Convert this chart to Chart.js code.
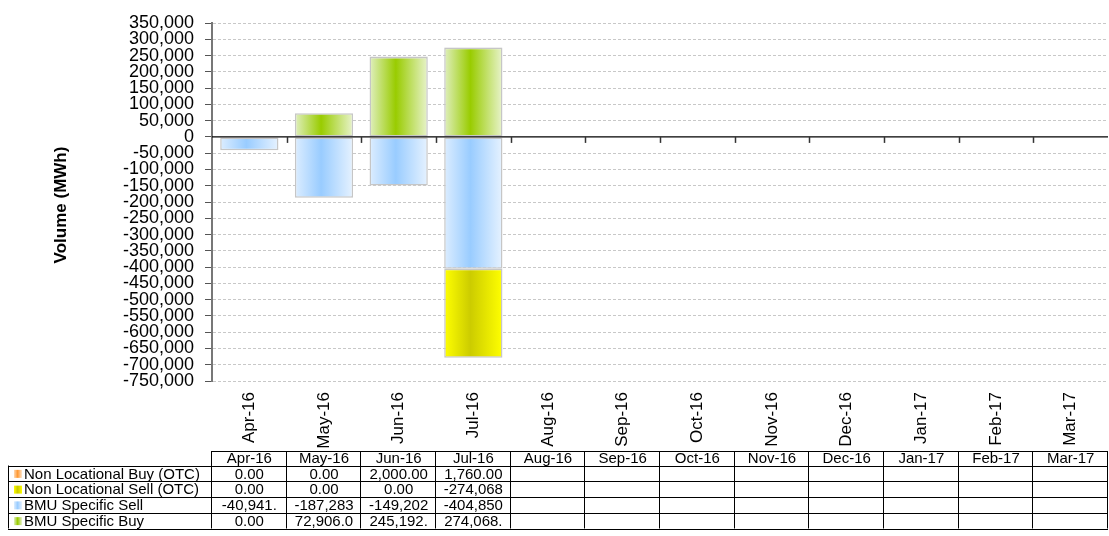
<!DOCTYPE html>
<html>
<head>
<meta charset="utf-8">
<script src="https://cdn.jsdelivr.net/npm/chart.js@4.4.0/dist/chart.umd.min.js"></script>
<style>
  html, body { margin: 0; padding: 0; background: #fff; }
  #wrap { width: 1109px; height: 536px; position: relative; }
</style>
</head>
<body>
<div id="wrap"><canvas id="volChart"></canvas></div>
<script>
// --- data ---
const months = ['Apr-16', 'May-16', 'Jun-16', 'Jul-16', 'Aug-16', 'Sep-16',
                'Oct-16', 'Nov-16', 'Dec-16', 'Jan-17', 'Feb-17', 'Mar-17'];
const nonLocBuy  = [0, 0, 2000, 1760, null, null, null, null, null, null, null, null];
const nonLocSell = [0, 0, 0, -274068, null, null, null, null, null, null, null, null];
const bmuSell    = [-40941, -187283, -149202, -404850, null, null, null, null, null, null, null, null];
const bmuBuy     = [0, 72906.04, 245192.5, 274068.6, null, null, null, null, null, null, null, null];
const yTicks     = { min: -750000, max: 350000, step: 50000 };

const FONT = 'Liberation Sans, Arial, sans-serif';
const BAR_PCT = 0.78;
const TABLE_FONT = 15;

// gradient stops: edge, centre, edge
const palette = {
    nlb: ['#ffd9b3', '#ff9933', '#ffe6cc'],
    nls: ['#ffff00', '#cccc00', '#ffff00'],
    bms: ['#dcedff', '#99ccff', '#e6f2ff'],
    bmb: ['#e0efbf', '#99cc00', '#e8f3cc']
};

function hGradient(ctx, x0, x1, stops) {
    const g = ctx.createLinearGradient(x0, 0, x1, 0);
    g.addColorStop(0, stops[0]);
    g.addColorStop(0.45, stops[1]);
    g.addColorStop(1, stops[2]);
    return g;
}

function barFill(stops) {
    return (c) => {
        const xs = c.chart.scales.x;
        if (!xs || c.dataIndex === undefined) return stops[1];
        const cx = xs.getPixelForValue(c.dataIndex);
        const w = (xs.right - xs.left) / months.length * BAR_PCT;
        if (!isFinite(cx) || !isFinite(w) || w <= 0) return stops[1];
        return hGradient(c.chart.ctx, cx - w / 2, cx + w / 2, stops);
    };
}

const noZero = arr => arr.map(v => (v === 0 ? null : v));

function fmt(v) {
    if (v === null) return '';
    return v.toLocaleString('en-US', { minimumFractionDigits: 2, maximumFractionDigits: 2 });
}

// Excel-style cut of text that does not fit the cell
function fitText(ctx, s, maxW) {
    while (s.length && ctx.measureText(s).width > maxW) s = s.slice(0, -1);
    return s;
}

const tableRows = [
    { label: 'Non Locational Buy (OTC)',  values: nonLocBuy,  stops: palette.nlb },
    { label: 'Non Locational Sell (OTC)', values: nonLocSell, stops: palette.nls },
    { label: 'BMU Specific Sell',         values: bmuSell,    stops: palette.bms },
    { label: 'BMU Specific Buy',          values: bmuBuy,     stops: palette.bmb }
];

const extrasPlugin = {
    id: 'extras',
    afterDatasetsDraw(chart) {
        const { ctx, scales: { x, y } } = chart;
        const y0 = y.getPixelForValue(0);
        ctx.save();
        // zero line
        ctx.strokeStyle = '#000';
        ctx.lineWidth = 1.2;
        ctx.beginPath();
        ctx.moveTo(x.left, y0);
        ctx.lineTo(x.right, y0);
        ctx.stroke();
        // category tick marks under the zero line
        const cw = (x.right - x.left) / months.length;
        ctx.strokeStyle = '#333';
        ctx.lineWidth = 1.5;
        for (let i = 1; i < months.length; i++) {
            const px = Math.round(x.left + i * cw) + 0.5;
            ctx.beginPath();
            ctx.moveTo(px, y0);
            ctx.lineTo(px, y0 + 6);
            ctx.stroke();
        }
        // y axis title
        ctx.translate(61, (y.top + y.bottom) / 2 + 3);
        ctx.rotate(-Math.PI / 2);
        ctx.fillStyle = '#000';
        ctx.font = 'bold 17px ' + FONT;
        ctx.textAlign = 'center';
        ctx.textBaseline = 'middle';
        ctx.fillText('Volume (MWh)', 0, 0);
        ctx.restore();
    },
    afterDraw(chart) {
        const { ctx, scales: { x } } = chart;
        const n = months.length;
        const cw = (x.right - x.left) / n;
        const top = 451, headH = 14.5, rowH = 15.75;
        const legL = 8;
        const bodyTop = top + headH;
        const bottom = bodyTop + rowH * tableRows.length;
        ctx.save();
        ctx.strokeStyle = '#000';
        ctx.lineWidth = 1;
        ctx.font = TABLE_FONT + 'px ' + FONT;
        ctx.fillStyle = '#000';
        ctx.textBaseline = 'middle';

        // horizontal lines
        ctx.beginPath();
        ctx.moveTo(x.left, top + 0.5);
        ctx.lineTo(x.right, top + 0.5);
        for (let r = 0; r <= tableRows.length; r++) {
            const yy = Math.round(bodyTop + r * rowH) + 0.5;
            ctx.moveTo(legL, yy);
            ctx.lineTo(x.right, yy);
        }
        // vertical lines
        ctx.moveTo(legL + 0.5, bodyTop);
        ctx.lineTo(legL + 0.5, bottom);
        for (let i = 0; i <= n; i++) {
            const px = Math.round(x.left + i * cw) - 0.5;
            ctx.moveTo(px, top);
            ctx.lineTo(px, bottom);
        }
        ctx.stroke();

        // header
        ctx.textAlign = 'center';
        months.forEach((m, i) => {
            ctx.fillText(m, x.left + (i + 0.5) * cw, top + headH / 2 + 1);
        });

        // rows
        const maxW = 61 * TABLE_FONT / 15;
        tableRows.forEach((row, r) => {
            const cy = bodyTop + (r + 0.5) * rowH + 1;
            ctx.fillStyle = hGradient(ctx, 14, 22, row.stops);
            ctx.fillRect(14, cy - 4.5, 8, 8);
            ctx.fillStyle = '#000';
            ctx.textAlign = 'left';
            ctx.fillText(row.label, 24, cy);
            ctx.textAlign = 'center';
            row.values.forEach((v, i) => {
                const s = fitText(ctx, fmt(v), maxW);
                ctx.fillText(s, x.left + (i + 0.5) * cw, cy);
            });
        });
        ctx.restore();
    }
};

const barBase = {
    borderColor: '#c6c6c6',
    borderWidth: 1.5,
    borderSkipped: false,
    barPercentage: BAR_PCT,
    categoryPercentage: 1.0
};

new Chart(document.getElementById('volChart'), {
    type: 'bar',
    data: {
        labels: months,
        datasets: [
            { ...barBase, label: 'BMU Specific Buy',          data: noZero(bmuBuy),     backgroundColor: barFill(palette.bmb) },
            { ...barBase, label: 'BMU Specific Sell',         data: noZero(bmuSell),    backgroundColor: barFill(palette.bms) },
            { ...barBase, label: 'Non Locational Sell (OTC)', data: noZero(nonLocSell), backgroundColor: barFill(palette.nls) },
            { ...barBase, label: 'Non Locational Buy (OTC)',  data: noZero(nonLocBuy),  backgroundColor: barFill(palette.nlb) }
        ]
    },
    options: {
        responsive: true,
        maintainAspectRatio: false,
        animation: false,
        layout: { padding: { left: 0, right: 1, top: 23, bottom: 84 } },
        plugins: {
            legend: { display: false },
            tooltip: { enabled: false }
        },
        scales: {
            x: {
                stacked: true,
                grid: { display: false, drawTicks: false },
                border: { display: false },
                ticks: {
                    color: '#000',
                    font: { family: FONT, size: 17 },
                    minRotation: 90,
                    maxRotation: 90,
                    padding: 11,
                    autoSkip: false
                },
                afterFit(scale) { scale.height = 71; }
            },
            y: {
                stacked: true,
                min: yTicks.min,
                max: yTicks.max,
                grid: {
                    color: c => (c.tick && c.tick.value === 0 ? 'rgba(0,0,0,0)' : '#c8c8c8'),
                    lineWidth: 1,
                    tickColor: '#555',
                    tickLength: 7,
                    tickBorderDash: []
                },
                border: { display: true, color: '#777', width: 2, dash: [3, 2] },
                ticks: {
                    stepSize: yTicks.step,
                    autoSkip: false,
                    color: '#000',
                    padding: 11,
                    font: { family: FONT, size: 18 },
                    callback: v => v.toLocaleString('en-US')
                },
                afterFit(scale) { scale.width = 212; }
            }
        }
    },
    plugins: [extrasPlugin]
});
</script>
</body>
</html>
